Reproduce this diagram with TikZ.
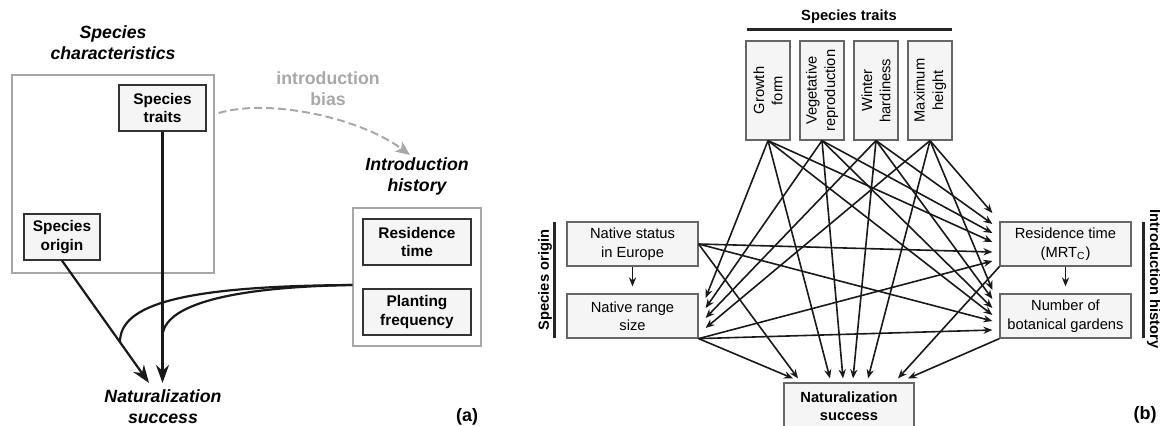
\documentclass[tikz,border=0pt]{standalone}
\usepackage{fontspec}
\setmainfont{Liberation Sans}
\usetikzlibrary{arrows.meta,positioning,calc}
\definecolor{boxfill}{HTML}{F5F5F5}
\definecolor{biasgray}{HTML}{A8A8A8}

\begin{document}
\begin{tikzpicture}[x=0.5pt, y=-0.5pt, >={Stealth[length=4.5pt,width=3.6pt]},
    box/.style={draw=black!60, fill=boxfill, line width=0.6pt, inner sep=0pt, align=center,
        font=\fontsize{7.35}{9.2}\selectfont},
    abox/.style={draw=black!80, fill=boxfill, line width=0.6pt, inner sep=0pt, align=center,
        font=\bfseries\fontsize{7.7}{9.2}\selectfont},
    outerbox/.style={draw=black!35, line width=0.6pt, inner sep=0pt},
    heading/.style={align=center, font=\bfseries\itshape\fontsize{8.85}{10.5}\selectfont},
    sidelabel/.style={font=\bfseries\fontsize{7.35}{9}\selectfont},
    link/.style={->, line width=0.8pt, black!90},
    bigarrow/.style={-{Stealth[length=9pt,width=6.5pt]}, line width=1.1pt, black!90},
]
    \useasboundingbox (0,0) rectangle (1160,425);

    % (a) species characteristics
    \node[heading] (chartitle) at (113,43) {Species\\characteristics};
    \node[outerbox, minimum width=101pt, minimum height=99pt] (charbox) at (113,174) {};
    \node[abox, minimum width=43.5pt, minimum height=23pt] (traits) at (162.5,108) {Species\\traits};
    \node[abox, minimum width=38pt, minimum height=23pt] (origin) at (62,237) {Species\\origin};

    % (a) introduction history
    \node[heading] (histtitle) at (417,176) {Introduction\\history};
    \node[outerbox, minimum width=64pt, minimum height=69pt] (histbox) at (417,277) {};
    \node[abox, minimum width=54pt, minimum height=23pt] (restime) at (417,242) {Residence\\time};
    \node[abox, minimum width=54pt, minimum height=23pt] (planting) at (417,312) {Planting\\frequency};

    % (a) response
    \node[heading] (nat) at (163,407) {Naturalization\\success};
    \node[font=\bfseries\fontsize{9}{11}\selectfont] (labela) at (467,417) {(a)};

    % (a) effects
    \draw[bigarrow] (traits.south) -- (traits.south |- nat.north);
    \draw[bigarrow] (origin.south) -- ($(nat.north)+(-14,0)$);
    \coordinate (mergeorigin) at (120,342);
    \coordinate (mergetraits) at (162.5,337);
    \draw[line width=1.1pt, black!90] ($(histbox.west)+(0,8)$) .. controls (180,286) and (120,305) .. (mergeorigin);
    \draw[line width=1.1pt, black!90] ($(histbox.west)+(0,8)$) .. controls (230,287) and (162.5,305) .. (mergetraits);

    % (a) introduction bias
    \node[align=center, text=biasgray, font=\bfseries\fontsize{8.85}{10.5}\selectfont] (bias) at (328,89) {introduction\\bias};
    \coordinate (biasend) at (410,155);
    \draw[biasgray, line width=1pt, dash pattern=on 4pt off 2pt, -{Stealth[length=7pt,width=6pt,inset=1.5pt]}]
        ($(traits.east)+(12,5)$) .. controls (270,98) and (360,118) .. (biasend);

    % (b) species traits
    \node[sidelabel] (traitstitle) at (849,17) {Species traits};
    \draw[line width=1.5pt, black!85] (747,29) -- (952,29);
    \node[box, rotate=90, minimum width=49.5pt, minimum height=22pt] (growth) at (768,90.5) {Growth\\form};
    \node[box, rotate=90, minimum width=49.5pt, minimum height=22pt] (veg) at (822,90.5) {Vegetative\\reproduction};
    \node[box, rotate=90, minimum width=49.5pt, minimum height=22pt] (winter) at (876,90.5) {Winter\\hardiness};
    \node[box, rotate=90, minimum width=49.5pt, minimum height=22pt] (maxheight) at (930,90.5) {Maximum\\height};

    % (b) species origin
    \node[box, minimum width=65.5pt, minimum height=22pt] (status) at (632.5,244) {Native status\\in Europe};
    \node[box, minimum width=65.5pt, minimum height=22pt] (range) at (632.5,316) {Native range\\size};
    \node[sidelabel, rotate=90] (originlabel) at (545,280) {Species origin};
    \draw[line width=1.5pt, black!85] (554,222) -- (554,338);

    % (b) introduction history
    \node[box, minimum width=65.5pt, minimum height=22pt] (residence) at (1065.5,244) {Residence time\\(MRT\textsubscript{C})};
    \node[box, minimum width=65.5pt, minimum height=22pt] (gardens) at (1065.5,316) {Number of\\botanical gardens};
    \node[sidelabel, rotate=-90] (histlabel) at (1154,279) {Introduction history};
    \draw[line width=1.5pt, black!85] (1143,222) -- (1143,338);

    % (b) response
    \node[box, font=\bfseries\fontsize{7.35}{9.2}\selectfont, minimum width=65pt, minimum height=23pt] (success) at (849,406) {Naturalization\\success};
    \node[font=\bfseries\fontsize{9}{11}\selectfont] (labelb) at (1145,415) {(b)};

    % traits -> native range size
    \draw[link] (growth.west) -- ($(range.east)+(7,-18)$);
    \draw[link] (veg.west) -- ($(range.east)+(7,-8)$);
    \draw[link] (winter.west) -- ($(range.east)+(7,2)$);
    \draw[link] (maxheight.west) -- ($(range.east)+(7,12)$);

    % traits -> residence time
    \draw[link] (growth.west) -- ($(residence.west)+(-7,-2)$);
    \draw[link] (veg.west) -- ($(residence.west)+(-7,-11)$);
    \draw[link] (winter.west) -- ($(residence.west)+(-7,-20)$);
    \draw[link] (maxheight.west) -- ($(residence.west)+(-7,-31)$);

    % traits -> botanical gardens
    \draw[link] (growth.west) -- ($(gardens.west)+(-7,-1)$);
    \draw[link] (veg.west) -- ($(gardens.west)+(-7,-8)$);
    \draw[link] (winter.west) -- ($(gardens.west)+(-7,-17)$);
    \draw[link] (maxheight.west) -- ($(gardens.west)+(-7,-26)$);

    % traits -> naturalization
    \draw[link] (growth.west) -- ($(success.north)+(-19,-4)$);
    \draw[link] (veg.west) -- ($(success.north)+(-6,-4)$);
    \draw[link] (winter.west) -- ($(success.north)+(4,-4)$);
    \draw[link] (maxheight.west) -- ($(success.north)+(19,-4)$);

    % origin
    \draw[link] (status.south) -- ($(range.north)+(0,-7)$);
    \draw[link] (status.east) -- ($(residence.west)+(-7,8)$);
    \draw[link] (status.east) -- ($(gardens.west)+(-7,5)$);
    \draw[link] (status.east) -- ($(success.north)+(-51,-4)$);
    \draw[link] (range.south east) -- ($(residence.west)+(-7,17)$);
    \draw[link] (range.south east) -- ($(gardens.west)+(-7,14)$);
    \draw[link] (range.south east) -- ($(success.north)+(-56,-4)$);

    % introduction history
    \draw[link] (residence.south) -- ($(gardens.north)+(0,-7)$);
    \draw[link] (residence.south west) -- ($(success.north)+(49,-4)$);
    \draw[link] (gardens.south west) -- ($(success.north)+(59,-4)$);

\end{tikzpicture}
\end{document}
